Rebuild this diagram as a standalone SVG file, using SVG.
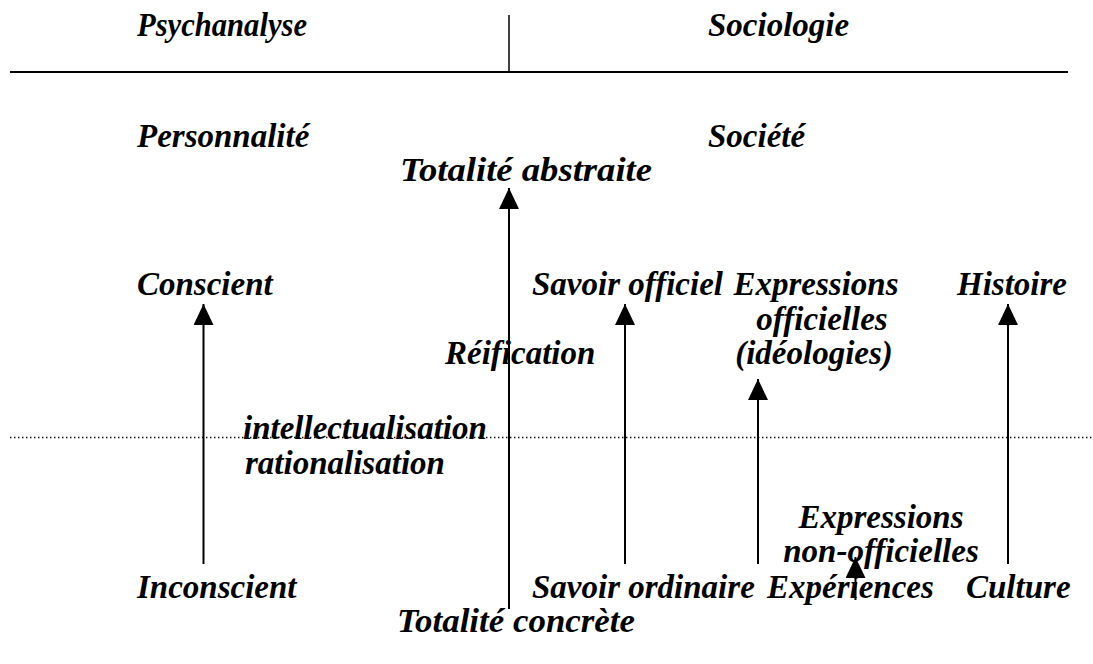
<svg xmlns="http://www.w3.org/2000/svg" width="1093" height="664" viewBox="0 0 1093 664">
  <style>
    .t { font-family: "Liberation Serif", "Times New Roman", serif; font-weight: bold; font-style: italic; font-size: 33px; fill: #000; }
    .c { text-anchor: middle; }
    .rule { stroke: #000; fill: none; }
    .arrow { stroke: #000; stroke-width: 2; fill: none; marker-end: url(#head); }
  </style>
  <defs>
    <marker id="head" viewBox="0 0 21 20" refX="21" refY="10" markerWidth="21" markerHeight="20" markerUnits="userSpaceOnUse" orient="auto">
      <path d="M0,0 L21,10 L0,20 z" fill="#000"/>
    </marker>
  </defs>
  <rect width="1093" height="664" fill="#fff"/>

  <!-- header rules and the dotted threshold -->
  <g id="rules">
    <line class="rule" x1="10" y1="72" x2="1068" y2="72" stroke-width="2"/>
    <line class="rule" x1="509" y1="15" x2="509" y2="72" stroke-width="1.5"/>
    <line class="rule" x1="10" y1="437.5" x2="1093" y2="437.5" stroke-width="1.4" stroke-dasharray="1.4 2.6"/>
  </g>

  <!-- connectors -->
  <g id="connectors">
    <line class="arrow" x1="509" y1="609" x2="509" y2="188"/>
    <line class="arrow" x1="203.5" y1="564" x2="203.5" y2="304"/>
    <line class="arrow" x1="625" y1="564" x2="625" y2="304"/>
    <line class="arrow" x1="758" y1="564" x2="758" y2="379"/>
    <line class="arrow" x1="1008" y1="564" x2="1008" y2="304"/>
    <line class="arrow" x1="855.5" y1="600" x2="855.5" y2="557"/>
  </g>

  <!-- headings -->
  <g id="psychanalyse"><text class="t" x="137" y="36" textLength="170" lengthAdjust="spacingAndGlyphs">Psychanalyse</text></g>
  <g id="sociologie"><text class="t" x="708" y="36">Sociologie</text></g>
  <g id="personnalite"><text class="t" x="137" y="147">Personnalité</text></g>
  <g id="societe"><text class="t" x="708" y="147">Société</text></g>

  <!-- nodes -->
  <g id="totalite-abstraite"><text class="t" x="400" y="181" textLength="252" lengthAdjust="spacingAndGlyphs">Totalité abstraite</text></g>
  <g id="conscient"><text class="t" x="137" y="295">Conscient</text></g>
  <g id="savoir-officiel"><text class="t" x="532" y="295">Savoir officiel</text></g>
  <g id="expressions-officielles">
    <text class="t c" x="816" y="295">Expressions</text>
    <text class="t c" x="822" y="330">officielles</text>
    <text class="t c" x="814" y="364">(idéologies)</text>
  </g>
  <g id="histoire"><text class="t" x="957" y="295">Histoire</text></g>
  <g id="reification"><text class="t" x="445" y="364">Réification</text></g>
  <g id="intellectualisation">
    <text class="t" x="243" y="439">intellectualisation</text>
    <text class="t" x="245" y="474">rationalisation</text>
  </g>
  <g id="expressions-non-officielles">
    <text class="t c" x="881" y="528">Expressions</text>
    <text class="t c" x="881" y="562">non-officielles</text>
  </g>
  <g id="inconscient"><text class="t" x="137" y="598">Inconscient</text></g>
  <g id="savoir-ordinaire"><text class="t" x="532" y="598">Savoir ordinaire</text></g>
  <g id="experiences"><text class="t" x="767" y="598">Expériences</text></g>
  <g id="culture"><text class="t" x="966" y="598">Culture</text></g>
  <g id="totalite-concrete"><text class="t" x="397" y="632" textLength="238" lengthAdjust="spacingAndGlyphs">Totalité concrète</text></g>
</svg>
